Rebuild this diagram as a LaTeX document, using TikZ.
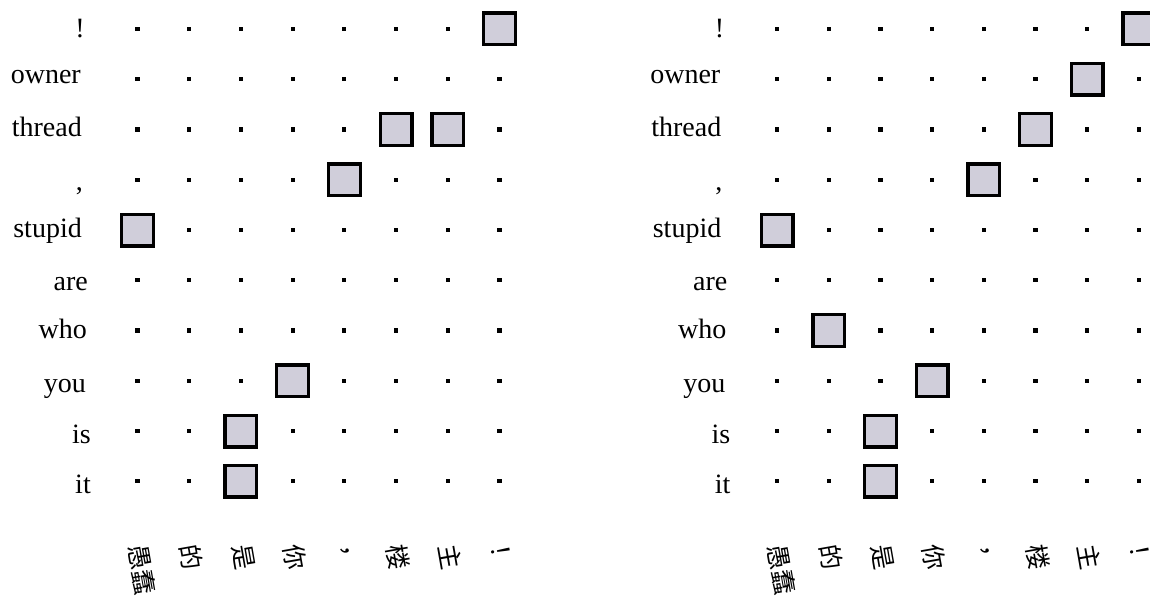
\documentclass[tikz,border=0pt]{standalone}
\usepackage{fontspec}
\setmainfont{Liberation Serif}
\newfontfamily\cjk{Noto Sans CJK SC}
\definecolor{boxfill}{RGB}{208,206,218}
\tikzset{
 rowlab/.style={anchor=base east, inner sep=0pt, font=\fontsize{28}{30}\selectfont},
 collab/.style={anchor=west, inner sep=0pt, rotate=-80, font=\cjk\fontsize{25}{27}\selectfont},
 gdot/.style={fill=black, draw=none, rectangle, minimum size=4.2pt, inner sep=0pt},
 abox/.style={draw=black, line width=3.3pt, fill=boxfill, rectangle, minimum size=31.7pt, inner sep=0pt},
}
\begin{document}
\begin{tikzpicture}[x=1pt,y=-1pt]
\useasboundingbox (0,0) rectangle (1150,596);
\foreach \g/\off in {L/0, R/639.5} {
  \foreach \r in {1,...,10} {
    \foreach \c in {1,...,8} {
      \node[gdot] (\g-\r-\c) at ({137.5+\off+51.7*(\c-1)}, {29+50.25*(\r-1)}) {};
    }
  }
  \foreach \t/\lx/\ly [count=\r] in {!/85/38,owner/81/84,thread/82/137,{,}/83/190,stupid/82/237,are/88/290,who/87/338,you/86/392,is/91/443,it/91/493} {
    \node[rowlab] (\g-row-\r) at ({\lx+\off},\ly) {\t};
  }
  \foreach \t [count=\c] in {愚蠢,的,是,你,，,楼,主,！} {
    \node[collab] (\g-col-\c) at ({137.5+\off+51.7*(\c-1)},545) {\t};
  }
}
\foreach \r/\c in {1/8,3/6,3/7,4/5,5/1,8/4,9/3,10/3}
  \node[abox] (L-box-\r-\c) at (L-\r-\c) {};
\foreach \r/\c in {1/8,2/7,3/6,4/5,5/1,7/2,8/4,9/3,10/3}
  \node[abox] (R-box-\r-\c) at (R-\r-\c) {};
\end{tikzpicture}
\end{document}
